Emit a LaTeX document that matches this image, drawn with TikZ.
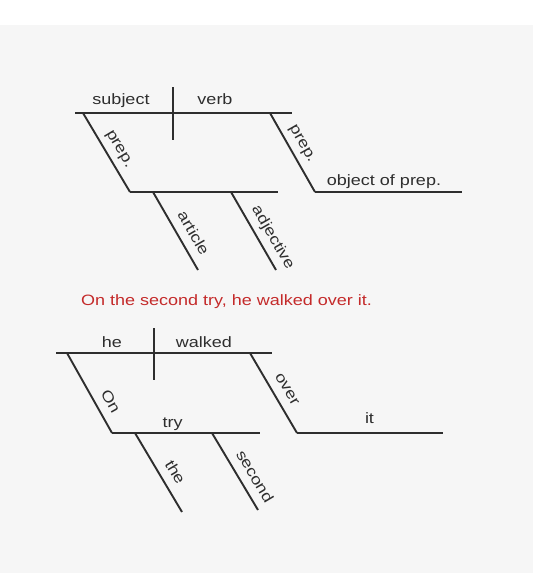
\documentclass[tikz,border=0pt]{standalone}
\usepackage{fontspec}
\setmainfont{Liberation Sans}[FakeStretch=1.2]
\definecolor{bg}{HTML}{F6F6F6}
\definecolor{ink}{HTML}{2E2E2E}
\definecolor{redtxt}{HTML}{C42A2A}
\begin{document}
\begin{tikzpicture}[x=1pt,y=-1pt,
  rule/.style={draw=ink, line width=1.9pt},
  word/.style={text=ink, anchor=base, inner sep=0pt, font=\fontsize{15}{18}\selectfont},
  slab/.style={word, sloped, yshift=9.5pt},
]
\fill[white] (0,0) rectangle (533,576);
\fill[bg] (0,25) rectangle (533,573);
\useasboundingbox (0,0) rectangle (533,576);
% ---------- top diagram ----------
\coordinate (tA) at (75,113);  \coordinate (tB) at (292,113);
\coordinate (tV1) at (173,87); \coordinate (tV2) at (173,140);
\coordinate (tL1) at (83,113); \coordinate (tL2) at (130,192);
\coordinate (tM2) at (278,192);
\coordinate (tar1) at (153,192); \coordinate (tar2) at (198,270);
\coordinate (tad1) at (231,192); \coordinate (tad2) at (276,270);
\coordinate (tR1) at (270,113); \coordinate (tR2) at (315,192);
\coordinate (tO2) at (462,192);
\draw[rule] (tA) -- (tB);
\draw[rule] (tV1) -- (tV2);
\draw[rule] (tL1) -- node[slab, pos=0.54] (tprep1) {prep.} (tL2);
\draw[rule] (tL2) -- (tM2);
\draw[rule] (tar1) -- node[slab, pos=0.62] (tart) {article} (tar2);
\draw[rule] (tad1) -- node[slab, pos=0.67] (tadj) {adjective} (tad2);
\draw[rule] (tR1) -- node[slab, pos=0.47] (tprep2) {prep.} (tR2);
\draw[rule] (tR2) -- (tO2);
\node[word] (tsubj) at (121,104) {subject};
\node[word] (tverb) at (215,104) {verb};
\node[word] (tobj) at (384,185) {object of prep.};
% ---------- sentence ----------
\node[word, text=redtxt] (sent) at (226.5,305) {On the second try, he walked over it.};
% ---------- bottom diagram ----------
\coordinate (bA) at (56,353);  \coordinate (bB) at (272,353);
\coordinate (bV1) at (154,328); \coordinate (bV2) at (154,380);
\coordinate (bL1) at (67,353); \coordinate (bL2) at (112,433);
\coordinate (bM2) at (260,433);
\coordinate (bth1) at (135,433); \coordinate (bth2) at (182,512);
\coordinate (bse1) at (212,433); \coordinate (bse2) at (258,510);
\coordinate (bR1) at (250,353); \coordinate (bR2) at (297,433);
\coordinate (bI2) at (443,433);
\draw[rule] (bA) -- (bB);
\draw[rule] (bV1) -- (bV2);
\draw[rule] (bL1) -- node[slab, pos=0.69] (bon) {On} (bL2);
\draw[rule] (bL2) -- (bM2);
\draw[rule] (bth1) -- node[slab, pos=0.59] (bthe) {the} (bth2);
\draw[rule] (bse1) -- node[slab, pos=0.66] (bsec) {second} (bse2);
\draw[rule] (bR1) -- node[slab, pos=0.54] (bover) {over} (bR2);
\draw[rule] (bR2) -- (bI2);
\node[word] (bhe) at (112,347) {he};
\node[word] (bwalk) at (204,347) {walked};
\node[word] (btry) at (172.5,427) {try};
\node[word] (bit) at (369.5,423) {it};
\end{tikzpicture}
\end{document}
